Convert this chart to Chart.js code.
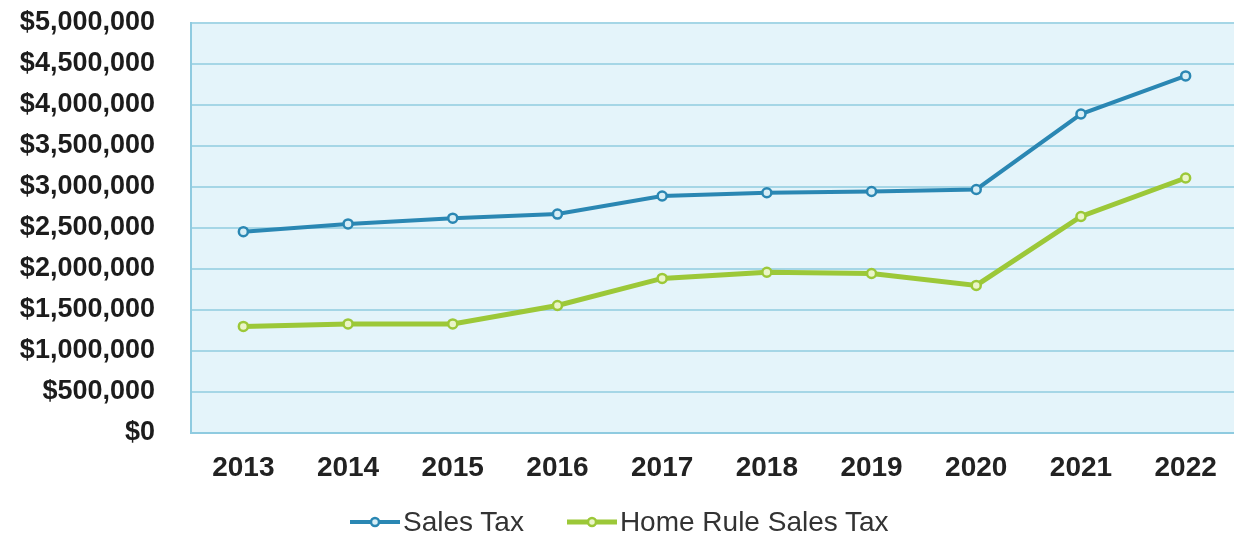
<!DOCTYPE html>
<html>
<head>
<meta charset="utf-8">
<title>Sales Tax Revenue</title>
<script src="https://cdn.jsdelivr.net/npm/chart.js@4.4.0/dist/chart.umd.min.js"></script>
<style>
  html, body { margin: 0; padding: 0; background: #fff; overflow: hidden; }
  .wrap { position: relative; width: 1234px; height: 535px; overflow: hidden; }
  .chart-box { position: absolute; left: 0; top: 0; width: 1245px; height: 535px; }
  .legend { position: absolute; left: 350px; top: 506px; display: flex; align-items: center;
            font-family: "Liberation Sans", Arial, sans-serif; font-size: 28px; color: #333; }
  .legend-item { display: flex; align-items: center; margin-right: 43px; }
  .legend-item svg { margin-right: 3px; }
</style>
</head>
<body>
<div class="wrap">
  <div class="chart-box"><canvas id="tax-line"></canvas></div>
  <div class="legend" id="tax-leg"></div>
</div>
<script>
/* Annual tax receipts, 2013-2022 */
var YEARS      = ['2013','2014','2015','2016','2017','2018','2019','2020','2021','2022'];
var SALES_TAX  = [2455000, 2550000, 2620000, 2670000, 2890000, 2930000, 2945000, 2970000, 3890000, 4355000];
var HOME_RULE  = [1300000, 1330000, 1330000, 1555000, 1885000, 1960000, 1945000, 1800000, 2640000, 3110000];
var Y_TICKS    = [0, 500000, 1000000, 1500000, 2000000, 2500000, 3000000, 3500000, 4000000, 4500000, 5000000];

var SERIES = [
  { label: 'Sales Tax',           data: SALES_TAX, color: '#2a87b3', fill: '#d6eef6', width: 4 },
  { label: 'Home Rule Sales Tax', data: HOME_RULE, color: '#9cc838', fill: '#eaf5c8', width: 5 },
];

var FONT = '"Liberation Sans", Arial, Helvetica, sans-serif';

function money(v) {
  return '$' + Number(v).toLocaleString('en-US');
}

/* light blue plot panel behind the grid */
var plotBg = {
  id: 'plotBg',
  beforeDraw: function(chart) {
    var a = chart.chartArea, ctx = chart.ctx;
    ctx.save();
    ctx.fillStyle = '#e4f4fa';
    ctx.fillRect(a.left, a.top, a.right - a.left, a.bottom - a.top);
    ctx.restore();
  }
};

new Chart(document.getElementById('tax-line'), {
  type: 'line',
  data: {
    labels: YEARS,
    datasets: SERIES.map(function(s) {
      return {
        label: s.label, data: s.data,
        borderColor: s.color, borderWidth: s.width,
        pointRadius: 4.5, pointBorderWidth: 2.5,
        pointBackgroundColor: s.fill, pointBorderColor: s.color,
        tension: 0, fill: false,
      };
    })
  },
  options: {
    responsive: true, maintainAspectRatio: false, animation: false,
    layout: { padding: { top: 23, right: 0, bottom: 0, left: 0 } },
    plugins: { legend: { display: false }, tooltip: { enabled: false } },
    scales: {
      x: {
        offset: true,
        // invisible tick marks give the label gap without extra side padding
        grid: { display: false, drawTicks: true, tickLength: 18, tickColor: 'transparent' },
        border: { display: true, color: '#8fcbe0', width: 2 },
        ticks: { color: '#222', padding: 0, font: { family: FONT, size: 28, weight: 'bold' } },
        afterFit: function(scale) { scale.height = 102; },
      },
      y: {
        min: 0, max: 5000000,
        afterBuildTicks: function(scale) {
          scale.ticks = Y_TICKS.map(function(v) { return { value: v }; });
        },
        grid: { color: '#a5d6e6', lineWidth: 2, drawTicks: true, tickLength: 36, tickColor: 'transparent' },
        border: { display: true, color: '#8fcbe0', width: 2 },
        ticks: {
          color: '#1c1c1c', padding: 0,
          font: { family: FONT, size: 27, weight: 'bold' },
          callback: function(v) { return money(v); },
        },
        afterFit: function(scale) { scale.width = 191; },
      },
    },
  },
  plugins: [plotBg],
});

/* legend: line-and-marker swatch plus label */
var leg = document.getElementById('tax-leg');
SERIES.forEach(function(s) {
  var item = document.createElement('div');
  item.className = 'legend-item';
  item.innerHTML = [
    '<svg width="50" height="14" viewBox="0 0 50 14">',
      '<line x1="0" y1="7" x2="50" y2="7" stroke="' + s.color + '" stroke-width="' + s.width + '"/>',
      '<circle cx="25" cy="7" r="4" fill="' + s.fill + '" stroke="' + s.color + '" stroke-width="2.5"/>',
    '</svg>',
    '<span>' + s.label + '</span>',
  ].join('');
  leg.appendChild(item);
});
</script>
</body>
</html>
